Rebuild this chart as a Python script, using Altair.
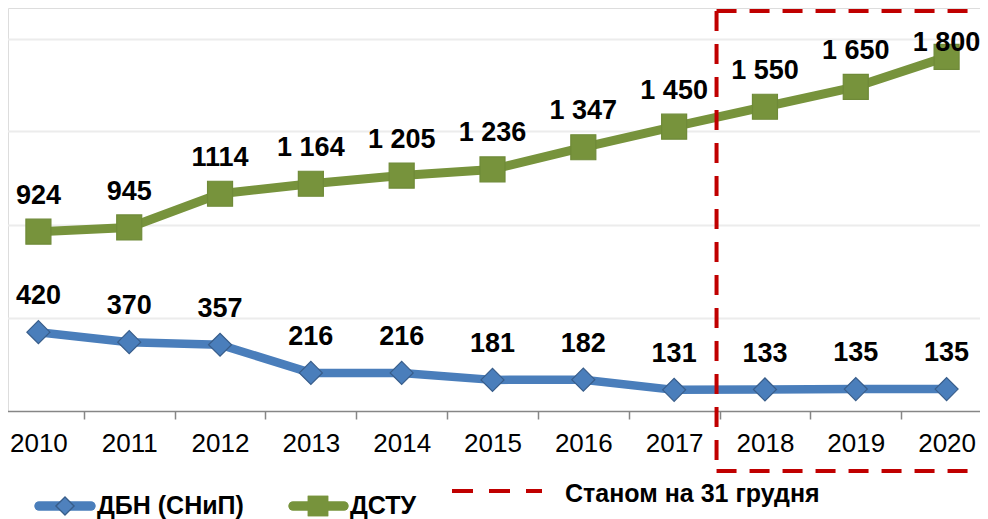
import altair as alt
import pandas as pd

years = ["2010", "2011", "2012", "2013", "2014", "2015", "2016", "2017", "2018", "2019", "2020"]
dbn_values = [420, 370, 357, 216, 216, 181, 182, 131, 133, 135, 135]
dstu_values = [924, 945, 1114, 1164, 1205, 1236, 1347, 1450, 1550, 1650, 1800]
dbn_labels = ["420", "370", "357", "216", "216", "181", "182", "131", "133", "135", "135"]
dstu_labels = ["924", "945", "1114", "1 164", "1 205", "1 236", "1 347", "1 450", "1 550", "1 650", "1 800"]
series_names = ["ДБН (СНиП)", "ДСТУ"]
box_label = "Станом на 31 грудня"
box_start = ["2018"]
grid_values = [491, 957, 1426, 1892]

FONT = "Liberation Sans"
BLUE = "#4f81bd"
BLUE_DARK = "#385d8a"
GREEN = "#77933c"
RED = "#c00000"

df = pd.DataFrame({
    "year": years * 2,
    "value": dbn_values + dstu_values,
    "label": dbn_labels + dstu_labels,
    "series": [series_names[0]] * len(years) + [series_names[1]] * len(years),
})
dbn = df[df.series == series_names[0]]
dstu = df[df.series == series_names[1]]

W, H = 972, 403
xscale = alt.Scale(type="band", domain=years, range=[-15, 984], paddingInner=0, paddingOuter=0)
yscale = alt.Scale(domain=[25, 2045], nice=False, zero=False)

X = alt.X("year:N", scale=xscale, bandPosition=0.5,
          axis=alt.Axis(title=None, tickBand="extent", labelFont=FONT, labelFontSize=26,
                        labelColor="black", domainColor="#868686", domainWidth=1.5,
                        tickColor="#868686", tickWidth=1.5, tickSize=8, labelPadding=11,
                        grid=False, labelAngle=0))
Y = alt.Y("value:Q", scale=yscale,
          axis=alt.Axis(title=None, labels=False, ticks=False, domain=False, grid=True,
                        values=grid_values, gridColor="#ececec", gridWidth=2))

def series_layers(d, color, dark, shape, size, lw, yenc):
    line = alt.Chart(d).mark_line(color=color, strokeWidth=lw, strokeJoin="round").encode(
        x=X, y=yenc)
    pts = alt.Chart(d).mark_point(shape=shape, filled=True, size=size, fill=color,
                                  stroke=dark, strokeWidth=1.2, opacity=1).encode(
        x=X, y=alt.Y("value:Q", scale=yscale))
    txt = alt.Chart(d).transform_calculate(
        ly="min(datum.value + 195, 1885)"
    ).mark_text(font=FONT, fontSize=27, fontWeight="bold", color="black",
                baseline="middle", dy=3).encode(
        x=X, y=alt.Y("ly:Q", scale=yscale), text="label:N")
    return [line, pts, txt]

blue_layers = series_layers(dbn, "#4a7ebb", BLUE_DARK, "diamond", 529, 8.5, Y)
green_layers = series_layers(dstu, GREEN, "#6f8a38", "square", 625, 9, alt.Y("value:Q", scale=yscale))

box_df = pd.DataFrame({"year": box_start})
box_x = alt.X("year:N", scale=xscale, bandPosition=0)
dash = [20, 13]
box_left = alt.Chart(box_df).mark_rule(color=RED, strokeWidth=4, strokeDash=dash, xOffset=-3).encode(
    x=box_x, y=alt.value(3), y2=alt.value(463))
box_top = alt.Chart(box_df).mark_rule(color=RED, strokeWidth=4, strokeDash=dash, xOffset=-3).encode(
    x=box_x, x2=alt.value(1000), y=alt.value(3))
box_bottom = alt.Chart(box_df).mark_rule(color=RED, strokeWidth=4, strokeDash=dash, xOffset=-3).encode(
    x=box_x, x2=alt.value(1000), y=alt.value(463))

# custom legend
leg_df = pd.DataFrame({"name": series_names})
LY = 498
leg_blue_line = alt.Chart(leg_df).mark_rule(color="#4a7ebb", strokeWidth=9, strokeCap="round").encode(
    x=alt.value(31), x2=alt.value(83), y=alt.value(LY))
leg_blue_pt = alt.Chart(leg_df).mark_point(shape="diamond", filled=True, size=320, fill=BLUE,
                                           stroke=BLUE_DARK, strokeWidth=1.2, opacity=1).encode(
    x=alt.value(57), y=alt.value(LY))
leg_blue_txt = alt.Chart(leg_df).transform_filter(alt.datum.name == series_names[0]).mark_text(
    font=FONT, fontSize=25, fontWeight="bold", color="black", align="left", baseline="middle").encode(
    x=alt.value(89), y=alt.value(LY), text="name:N")
leg_green_line = alt.Chart(leg_df).mark_rule(color=GREEN, strokeWidth=9, strokeCap="round").encode(
    x=alt.value(285), x2=alt.value(336), y=alt.value(LY))
leg_green_pt = alt.Chart(leg_df).mark_point(shape="square", filled=True, size=420, fill=GREEN,
                                            opacity=1).encode(
    x=alt.value(310), y=alt.value(LY))
leg_green_txt = alt.Chart(leg_df).transform_filter(alt.datum.name == series_names[1]).mark_text(
    font=FONT, fontSize=25, fontWeight="bold", color="black", align="left", baseline="middle").encode(
    x=alt.value(342), y=alt.value(LY), text="name:N")
leg_red_line = alt.Chart(leg_df).mark_rule(color=RED, strokeWidth=4, strokeDash=[21, 16]).encode(
    x=alt.value(444), x2=alt.value(534), y=alt.value(483))
leg_red_txt = alt.Chart(pd.DataFrame({"name": [box_label]})).mark_text(
    font=FONT, fontSize=25, fontWeight="bold", color="black", align="left", baseline="middle").encode(
    x=alt.value(557), y=alt.value(486), text="name:N")

chart = alt.layer(
    *blue_layers[:2], *green_layers[:2], blue_layers[2], green_layers[2],
    box_left, box_top, box_bottom,
    leg_blue_line, leg_blue_pt, leg_blue_txt, leg_green_line, leg_green_pt, leg_green_txt,
    leg_red_line, leg_red_txt,
).properties(
    width=W, height=H,
    autosize=alt.AutoSizeParams(type="none"),
    padding={"left": 0, "top": 0, "right": 0, "bottom": 108},
).configure_view(strokeOpacity=0, strokeWidth=0, fill="white").configure(background="white")

chart.save("out.html", embed_options={"renderer": "svg", "actions": False})
